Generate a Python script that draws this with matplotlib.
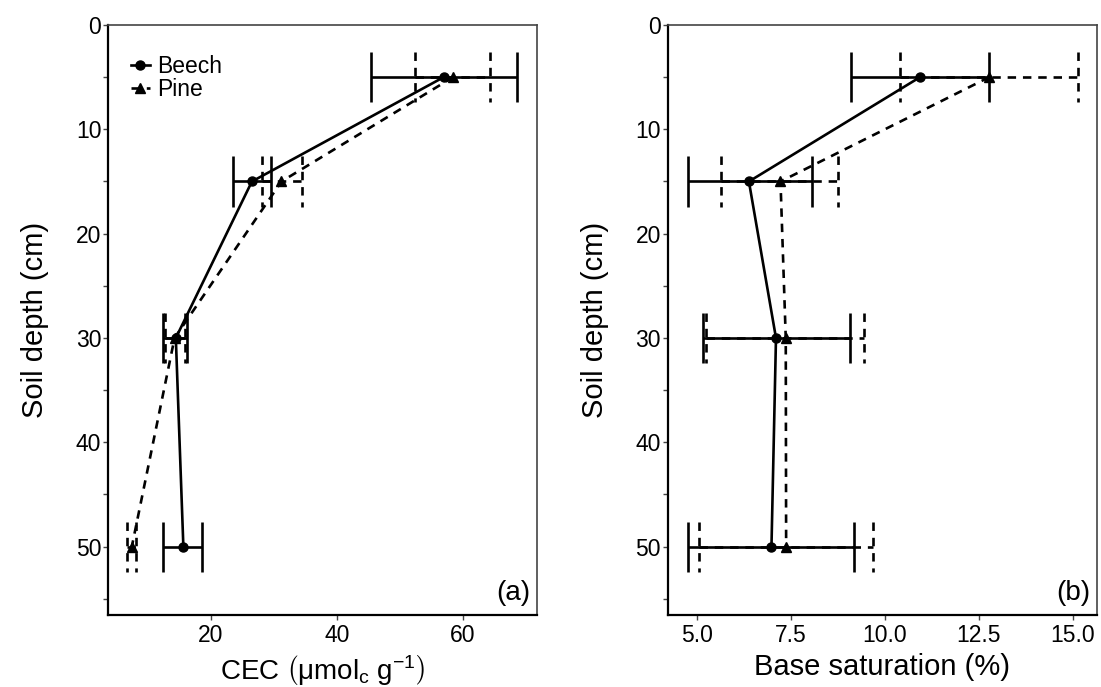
import matplotlib
matplotlib.use("Agg")
import matplotlib.pyplot as plt
from matplotlib.lines import Line2D
import numpy as np

plt.rcParams['font.family'] = ['Liberation Sans', 'DejaVu Sans']
plt.rcParams['mathtext.fontset'] = 'custom'
plt.rcParams['mathtext.rm'] = 'Liberation Sans'
plt.rcParams['mathtext.it'] = 'Liberation Sans:italic'

# ---- data ----
depth = [5, 15, 30, 50]

beech_cec = [57.0, 26.5, 14.4, 15.6]
beech_cec_lo = [45.5, 23.5, 12.3, 12.4]
beech_cec_hi = [68.6, 29.5, 16.2, 18.6]

pine_cec = [58.5, 31.2, 14.2, 7.4]
pine_cec_lo = [52.4, 28.1, 12.6, 6.7]
pine_cec_hi = [64.4, 34.4, 15.9, 8.1]

beech_bs = [10.94, 6.39, 7.11, 6.99]
beech_bs_lo = [9.10, 4.76, 5.16, 4.78]
beech_bs_hi = [12.78, 8.06, 9.08, 9.19]

pine_bs = [12.78, 7.23, 7.37, 7.38]
pine_bs_lo = [10.42, 5.65, 5.25, 5.06]
pine_bs_hi = [15.13, 8.75, 9.45, 9.68]

series_labels = ["Beech", "Pine"]
cec_ticks = [20, 40, 60]
bs_ticks = [5.0, 7.5, 10.0, 12.5, 15.0]
depth_ticks = [0, 10, 20, 30, 40, 50]
depth_minor = [5, 15, 25, 35, 45, 55]

# ---- style ----
W, H = 1101, 687
fig = plt.figure(figsize=(W / 100, H / 100), dpi=100)
ax1 = fig.add_axes([108.3 / W, 1 - 615 / H, (536.7 - 108.3) / W, (615 - 25) / H])
ax2 = fig.add_axes([667.7 / W, 1 - 615 / H, (1096.7 - 667.7) / W, (615 - 25) / H])

LW = 1.9
CAP = 2.4  # half-height of caps in depth units
DASH = (0, (3.2, 2.6))
styles = [dict(ls='-', marker='o'), dict(ls=DASH, marker='^')]


def draw(ax, means, los, his):
    for (m, lo, hi), st in zip(zip(means, los, his), styles):
        d = np.asarray(depth, float)
        ax.hlines(d, lo, hi, colors='black', linestyles=st['ls'], linewidth=LW, zorder=2)
        ax.vlines(lo, d - CAP, d + CAP, colors='black', linestyles=st['ls'], linewidth=LW, zorder=2)
        ax.vlines(hi, d - CAP, d + CAP, colors='black', linestyles=st['ls'], linewidth=LW, zorder=2)
        ax.plot(m, d, color='black', linestyle=st['ls'], linewidth=LW,
                marker=st['marker'], markersize=6.5, zorder=3)


draw(ax1, [beech_cec, pine_cec], [beech_cec_lo, pine_cec_lo], [beech_cec_hi, pine_cec_hi])
draw(ax2, [beech_bs, pine_bs], [beech_bs_lo, pine_bs_lo], [beech_bs_hi, pine_bs_hi])

for ax in (ax1, ax2):
    ax.set_ylim(56.55, 0)
    ax.set_yticks(depth_ticks)
    ax.set_yticks(depth_minor, minor=True)
    ax.set_ylabel("Soil depth (cm)", fontsize=21, labelpad=19)
    ax.tick_params(axis='both', which='major', direction='out', length=3.5, width=1.0,
                   color='#444444', labelsize=16.5, labelcolor='black')
    ax.tick_params(axis='y', which='major', pad=1.5)
    ax.tick_params(axis='x', which='major', pad=3)
    ax.tick_params(axis='y', which='minor', direction='out', length=3.5, width=1.0, color='#444444')
    for s in ('left', 'bottom'):
        ax.spines[s].set_linewidth(1.6)
        ax.spines[s].set_color('black')
    for s in ('top', 'right'):
        ax.spines[s].set_linewidth(1.2)
        ax.spines[s].set_color('#444444')

ax1.set_xlim(3.66, 71.8)
ax1.set_xticks(cec_ticks)
ax1.set_xlabel(r"CEC $\left(\mathrm{μmol_c\ g^{-1}}\right)$", fontsize=20, labelpad=4)
ax1.text(0.985, 0.015, "(a)", transform=ax1.transAxes, ha='right', va='bottom', fontsize=20)

ax2.set_xlim(4.23, 15.64)
ax2.set_xticks(bs_ticks)
ax2.set_xticklabels([f"{t:.1f}" for t in bs_ticks])
ax2.set_xlabel("Base saturation (%)", fontsize=21, labelpad=4)
ax2.text(0.985, 0.015, "(b)", transform=ax2.transAxes, ha='right', va='bottom', fontsize=20)

handles = [Line2D([], [], color='black', linestyle=st['ls'], linewidth=LW,
                  marker=st['marker'], markersize=6.5) for st in styles]
ax1.legend(handles, series_labels, loc='upper left', bbox_to_anchor=(0.02, 0.972),
           frameon=False, fontsize=16.5, handlelength=0.85, handletextpad=0.3,
           labelspacing=0.0, borderaxespad=0.2)

fig.savefig("out.png", dpi=100)
